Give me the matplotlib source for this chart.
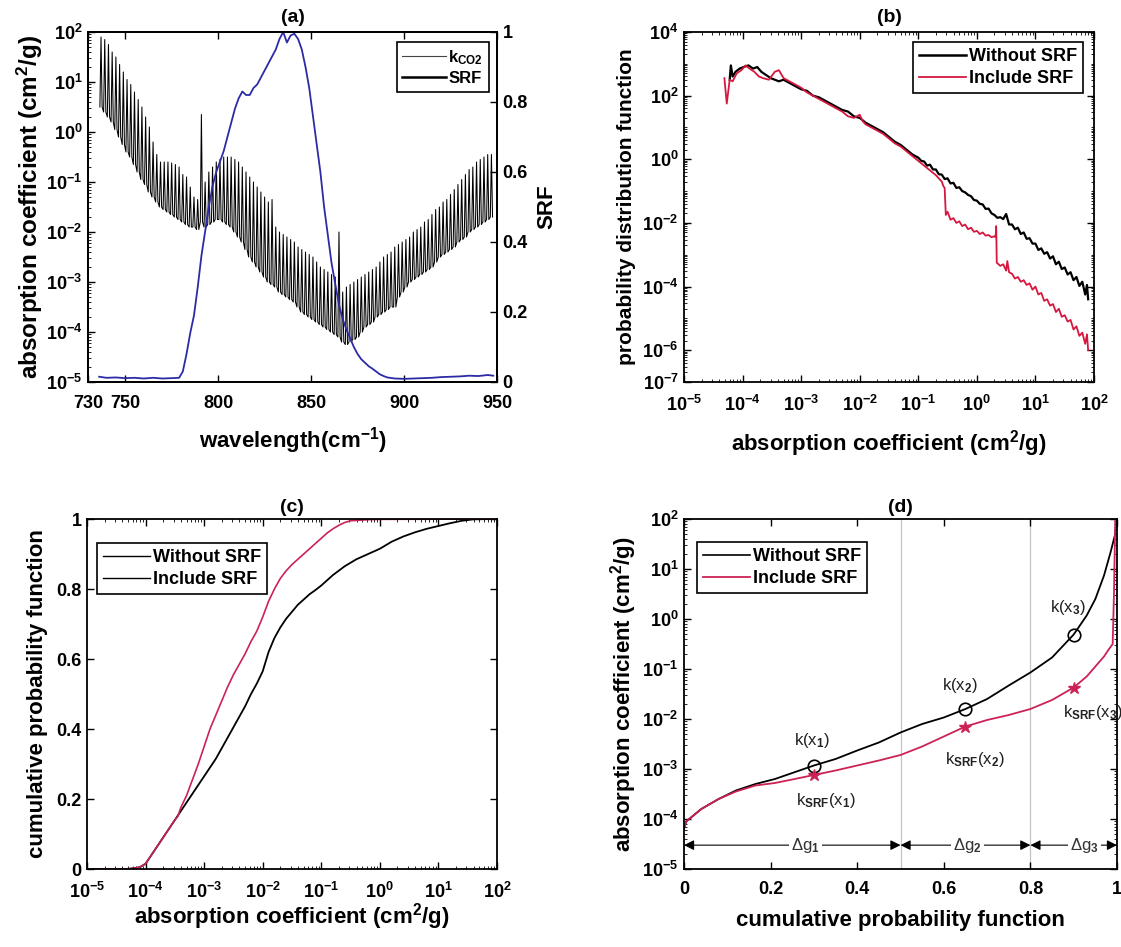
import numpy as np
import matplotlib
matplotlib.use("Agg")
import matplotlib.pyplot as plt
from matplotlib.lines import Line2D
from matplotlib.ticker import FixedLocator, FixedFormatter, LogLocator, NullFormatter

# ---------------------------------------------------------------- data
# (a) CO2 absorption lines: line centres (cm-1), log10 of peak and trough k
line_wn = np.arange(737, 949, 2)
line_peak = [1.9, 1.85, 1.75, 1.6, 1.5, 1.35, 1.2, 1.05, 0.95, 0.8,
             0.65, 0.5, 0.3, 0.1, -0.2, -0.45, -0.6, -0.6, -0.6, -0.62,
             -0.65, -0.7, -0.85, -0.9, -1.1, -1.3, -1.35, 0.35, -1.0, -0.8,
             -0.7, -0.6, -0.55, -0.5, -0.5, -0.5, -0.55, -0.6, -0.7, -0.8,
             -0.9, -1.0, -1.1, -1.2, -1.3, -1.4, -1.35, -1.9, -2.0, -2.05,
             -2.1, -2.15, -2.2, -2.3, -2.35, -2.4, -2.45, -2.5, -2.6, -2.7,
             -2.75, -2.8, -2.85, -2.9, -2.0, -3.2, -3.1, -3.05, -3.0, -2.95,
             -2.9, -2.85, -2.8, -2.75, -2.7, -2.6, -2.5, -2.45, -2.4, -2.3,
             -2.25, -2.2, -2.15, -2.1, -2.0, -1.95, -1.9, -1.8, -1.75, -1.65,
             -1.55, -1.5, -1.4, -1.35, -1.25, -1.15, -1.05, -0.95, -0.85, -0.75,
             -0.7, -0.6, -0.55, -0.5, -0.45, -0.45]
line_trough = [0.5, 0.4, 0.3, 0.2, 0.05, -0.1, -0.25, -0.4, -0.5, -0.65,
               -0.8, -0.95, -1.05, -1.2, -1.3, -1.4, -1.5, -1.55, -1.6, -1.65,
               -1.7, -1.75, -1.8, -1.85, -1.9, -1.9, -1.95, -1.8, -1.9, -1.85,
               -1.8, -1.75, -1.75, -1.8, -1.85, -1.9, -2.0, -2.1, -2.2, -2.35,
               -2.5, -2.6, -2.7, -2.8, -2.9, -3.0, -3.05, -3.1, -3.2, -3.25,
               -3.3, -3.35, -3.4, -3.5, -3.6, -3.65, -3.7, -3.75, -3.8, -3.85,
               -3.9, -3.95, -4.0, -4.05, -4.1, -4.2, -4.25, -4.2, -4.15, -4.1,
               -4.0, -3.9, -3.85, -3.8, -3.7, -3.65, -3.6, -3.55, -3.5, -3.5,
               -3.3, -3.2, -3.1, -3.0, -2.95, -2.9, -2.85, -2.8, -2.75, -2.7,
               -2.6, -2.5, -2.45, -2.4, -2.35, -2.3, -2.2, -2.15, -2.1, -2.0,
               -1.95, -1.9, -1.85, -1.8, -1.75, -1.7]

# (a) sensor spectral response function
srf_wn = [736, 740, 745, 750, 755, 760, 765, 770, 775, 779, 781, 783, 785, 787,
          789, 791, 793, 795, 797, 799, 801, 803, 805, 807, 809, 811, 813, 815,
          817, 819, 821, 823, 825, 827, 829, 831, 833, 835, 837, 839, 841, 843,
          845, 847, 849, 851, 853, 855, 857, 859, 861, 863, 865, 867, 869, 871,
          873, 875, 877, 879, 881, 883, 885, 887, 889, 891, 895, 900, 905, 910,
          915, 920, 925, 930, 935, 940, 945, 948]
srf_val = [0.015, 0.012, 0.013, 0.011, 0.012, 0.010, 0.012, 0.010, 0.011, 0.012,
           0.03, 0.08, 0.14, 0.19, 0.27, 0.36, 0.43, 0.50, 0.56, 0.60, 0.63, 0.66,
           0.70, 0.74, 0.78, 0.81, 0.83, 0.82, 0.82, 0.84, 0.85, 0.87, 0.89, 0.91,
           0.93, 0.95, 0.98, 1.0, 0.97, 0.99, 0.995, 0.98, 0.95, 0.90, 0.84, 0.76,
           0.68, 0.60, 0.50, 0.42, 0.34, 0.28, 0.22, 0.18, 0.15, 0.125, 0.10, 0.08,
           0.065, 0.055, 0.045, 0.038, 0.03, 0.022, 0.017, 0.013, 0.010, 0.009,
           0.010, 0.011, 0.012, 0.014, 0.015, 0.016, 0.018, 0.017, 0.020, 0.018]

# (b) probability distribution function, log10 k vs log10 pdf
pdf_no_logk = [-4.22, -4.2, -4.17, -4.12, -4.05, -3.98, -3.9, -3.82, -3.75, -3.68,
               -3.6, -3.52, -3.45, -3.38, -3.3, -3.2, -3.1, -3.0, -2.9, -2.8,
               -2.7, -2.6, -2.5, -2.4, -2.3, -2.2, -2.1, -2.0, -1.9, -1.8,
               -1.7, -1.6, -1.5, -1.4, -1.3, -1.2, -1.1,
               -1.0, -0.95, -0.9, -0.85, -0.8, -0.75, -0.7, -0.65, -0.6, -0.55,
               -0.5, -0.45, -0.4, -0.35, -0.3, -0.25, -0.2, -0.15, -0.1, -0.05,
               0.0, 0.05, 0.1, 0.15, 0.2, 0.25, 0.3, 0.35, 0.4, 0.45,
               0.5, 0.55, 0.6, 0.65, 0.7, 0.75, 0.8, 0.85, 0.9, 0.95,
               1.0, 1.05, 1.1, 1.15, 1.2, 1.25, 1.3, 1.35, 1.4, 1.45,
               1.5, 1.55, 1.6, 1.65, 1.7, 1.75, 1.8, 1.85, 1.88, 1.9]
pdf_no_logp = [2.5, 2.95, 2.6, 2.75, 2.85, 2.9, 2.95, 2.85, 2.9, 2.75,
               2.65, 2.55, 2.5, 2.45, 2.5, 2.4, 2.3, 2.2, 2.15, 2.0,
               1.95, 1.85, 1.75, 1.65, 1.55, 1.5, 1.35, 1.3, 1.15, 1.05,
               0.95, 0.85, 0.7, 0.55, 0.45, 0.3, 0.15,
               0.05, -0.05, -0.07, -0.2, -0.17, -0.32, -0.32, -0.47, -0.48, -0.62,
               -0.6, -0.76, -0.74, -0.9, -0.88, -1.0, -1.04, -1.12, -1.16, -1.28,
               -1.3, -1.4, -1.42, -1.56, -1.55, -1.7, -1.75, -1.84, -1.82, -1.88,
               -1.72, -2.05, -2.05, -2.2, -2.15, -2.35, -2.3, -2.5, -2.48, -2.65,
               -2.65, -2.85, -2.8, -2.97, -2.92, -3.12, -3.05, -3.3, -3.22, -3.45,
               -3.4, -3.62, -3.55, -3.8, -3.7, -3.98, -3.85, -4.25, -3.95, -4.4]
pdf_srf_logk = [-4.31, -4.27, -4.22, -4.17, -4.1, -4.02, -3.95, -3.88, -3.8, -3.72,
                -3.65, -3.55, -3.45, -3.38, -3.3, -3.2, -3.1, -3.0, -2.9, -2.8,
                -2.7, -2.6, -2.5, -2.4, -2.3, -2.2, -2.1, -2.0, -1.95, -1.9,
                -1.8, -1.7, -1.6, -1.5, -1.4, -1.3, -1.2, -1.1, -1.0, -0.9,
                -0.8, -0.7, -0.6, -0.57, -0.55, -0.53, -0.5, -0.45, -0.4, -0.35,
                -0.3, -0.25, -0.2, -0.15, -0.1, -0.05, 0.0, 0.05, 0.1, 0.15,
                0.2, 0.25, 0.3, 0.32, 0.33, 0.34, 0.4, 0.45, 0.5, 0.52,
                0.55, 0.6, 0.65, 0.7, 0.75, 0.8, 0.85, 0.9, 0.95, 1.0,
                1.05, 1.1, 1.15, 1.2, 1.25, 1.3, 1.35, 1.4, 1.45, 1.5,
                1.55, 1.6, 1.65, 1.7, 1.75, 1.8, 1.85, 1.88, 1.9]
pdf_srf_logp = [2.55, 1.75, 2.5, 2.45, 2.7, 2.8, 2.95, 2.85, 2.75, 2.6,
                2.55, 2.5, 2.75, 2.8, 2.55, 2.45, 2.35, 2.25, 2.1, 2.0,
                1.9, 1.8, 1.7, 1.6, 1.5, 1.35, 1.3, 1.4, 1.2, 1.1,
                1.0, 0.9, 0.8, 0.65, 0.5, 0.4, 0.25, 0.1, -0.05, -0.2,
                -0.35, -0.5, -0.7, -0.85, -0.9, -1.75, -1.65, -1.9, -1.85, -2.0,
                -1.95, -2.1, -2.05, -2.2, -2.15, -2.28, -2.25, -2.35, -2.3, -2.4,
                -2.38, -2.45, -2.42, -2.45, -2.1, -3.25, -3.35, -3.3, -3.5, -3.2,
                -3.55, -3.6, -3.75, -3.7, -3.85, -3.8, -3.95, -3.9, -4.1, -4.0,
                -4.25, -4.2, -4.45, -4.4, -4.6, -4.55, -4.8, -4.7, -4.95, -4.9,
                -5.1, -5.05, -5.35, -5.25, -5.55, -5.45, -5.8, -5.5, -6.0]

# (c) cumulative probability function vs log10 k
cdf_no_logk = [-5.0, -4.3, -4.1, -4.0, -3.9, -3.8, -3.7, -3.6, -3.5, -3.4,
               -3.3, -3.2, -3.1, -3.0, -2.9, -2.8, -2.7, -2.6, -2.5, -2.4,
               -2.3, -2.2, -2.1, -2.0, -1.9, -1.8, -1.7, -1.6, -1.5, -1.4,
               -1.3, -1.2, -1.1, -1.0, -0.8, -0.6, -0.4, -0.2, 0.0, 0.2,
               0.4, 0.6, 0.8, 1.0, 1.2, 1.4, 1.6, 2.0]
cdf_no = [0.0, 0.0, 0.005, 0.015, 0.04, 0.065, 0.09, 0.115, 0.14, 0.165,
          0.19, 0.215, 0.24, 0.265, 0.29, 0.315, 0.345, 0.375, 0.405, 0.435,
          0.465, 0.5, 0.53, 0.565, 0.62, 0.66, 0.69, 0.715, 0.735, 0.755,
          0.77, 0.785, 0.797, 0.81, 0.84, 0.865, 0.885, 0.9, 0.915, 0.935,
          0.95, 0.962, 0.972, 0.98, 0.988, 0.995, 0.999, 1.0]
cdf_srf_logk = [-5.0, -4.3, -4.1, -4.0, -3.9, -3.8, -3.7, -3.6, -3.5, -3.45,
                -3.4, -3.3, -3.2, -3.1, -3.0, -2.9, -2.8, -2.7, -2.6, -2.5,
                -2.4, -2.3, -2.2, -2.1, -2.0, -1.9, -1.8, -1.7, -1.6, -1.5,
                -1.4, -1.3, -1.2, -1.1, -1.0, -0.9, -0.8, -0.7, -0.6, -0.5,
                -0.2, 0.0, 2.0]
cdf_srf = [0.0, 0.0, 0.005, 0.015, 0.04, 0.065, 0.09, 0.115, 0.14, 0.15,
           0.175, 0.21, 0.255, 0.3, 0.35, 0.4, 0.44, 0.48, 0.52, 0.555,
           0.585, 0.615, 0.65, 0.68, 0.72, 0.765, 0.8, 0.83, 0.852, 0.87,
           0.885, 0.9, 0.915, 0.93, 0.945, 0.96, 0.972, 0.982, 0.99, 0.995,
           0.998, 0.999, 1.0]

# (d) k as a function of g (log10 k)
g_no = [0.0, 0.005, 0.04, 0.08, 0.12, 0.165, 0.21, 0.25, 0.3, 0.35,
        0.4, 0.45, 0.5, 0.55, 0.6, 0.65, 0.7, 0.75, 0.8, 0.85,
        0.9, 0.93, 0.95, 0.97, 0.985, 0.995, 1.0]
kg_no = [-4.2, -4.05, -3.8, -3.6, -3.43, -3.3, -3.2, -3.08, -2.93, -2.8,
         -2.63, -2.47, -2.27, -2.1, -1.97, -1.8, -1.6, -1.33, -1.07, -0.77,
         -0.31, 0.07, 0.4, 0.87, 1.33, 1.67, 2.0]
g_srf = [0.0, 0.005, 0.04, 0.08, 0.12, 0.165, 0.21, 0.25, 0.3, 0.35,
         0.4, 0.45, 0.5, 0.55, 0.6, 0.65, 0.7, 0.75, 0.8, 0.85,
         0.9, 0.93, 0.95, 0.97, 0.98, 0.99, 0.993, 0.996]
kg_srf = [-4.2, -4.05, -3.8, -3.6, -3.45, -3.33, -3.28, -3.21, -3.12, -3.03,
          -2.93, -2.83, -2.72, -2.55, -2.35, -2.15, -2.02, -1.92, -1.8, -1.62,
          -1.37, -1.15, -0.95, -0.75, -0.62, -0.5, 0.5, 2.0]
g_nodes = [0.3, 0.65, 0.9]
g_bounds = [0.0, 0.5, 0.8, 1.0]
dg_label_x = [0.28, 0.655, 0.925]

# ---------------------------------------------------------------- style
plt.rcParams.update({
    "font.family": ["Liberation Sans", "DejaVu Sans"],
    "font.weight": "bold",
    "font.size": 13,
    "axes.labelweight": "bold",
    "axes.titleweight": "bold",
    "mathtext.fontset": "custom",
    "mathtext.rm": "Liberation Sans",
    "mathtext.it": "Liberation Sans:italic",
    "mathtext.bf": "Liberation Sans:bold",
    "mathtext.sf": "Liberation Sans",
    "mathtext.default": "bf",
    "axes.linewidth": 1.3,
    "xtick.direction": "in", "ytick.direction": "in",
    "xtick.top": True, "ytick.right": True,
    "xtick.major.size": 5, "ytick.major.size": 5,
    "xtick.minor.size": 2.5, "ytick.minor.size": 2.5,
    "xtick.major.width": 1.0, "ytick.major.width": 1.0,
    "xtick.major.pad": 9, "ytick.major.pad": 4,
    "xtick.labelsize": 13, "ytick.labelsize": 13,
    "legend.fancybox": False, "legend.edgecolor": "black",
    "legend.framealpha": 1.0, "legend.fontsize": 13,
})

RED = "#d6173f"
RED2 = "#cc2255"
BLUE = "#2b2ba6"
LABEL_FS = 16

W, H = 1121, 947
fig = plt.figure(figsize=(W / 100, H / 100), dpi=100)


def rect(l, t, r, b):
    return [l / W, 1 - b / H, (r - l) / W, (b - t) / H]


def fig_xy(x, y):
    return (x / W, 1 - y / H)


def decade_axis(axis, exps):
    axis.set_major_locator(FixedLocator([10.0 ** e for e in exps]))
    axis.set_major_formatter(FixedFormatter([rf"$10^{{{e}}}$" for e in exps]))
    axis.set_minor_locator(LogLocator(base=10, subs=np.arange(1, 10) * 1.0, numticks=60))
    axis.set_minor_formatter(NullFormatter())


def legend_box(ax, handles, labels, anchor, loc, fs, hl):
    leg = ax.legend(handles, labels, loc=loc, bbox_to_anchor=fig_xy(*anchor),
                    bbox_transform=fig.transFigure, borderaxespad=0,
                    fontsize=fs, handlelength=hl, handletextpad=0.15,
                    labelspacing=0.25, borderpad=0.35)
    leg.get_frame().set_linewidth(1.2)
    return leg


# ---------------------------------------------------------------- (a)
ax_a = fig.add_axes(rect(88, 32, 497, 382))
n = len(line_wn)
xs = np.empty(3 * n)
ys = np.empty(3 * n)
xs[0::3] = line_wn - 0.6
xs[1::3] = line_wn
xs[2::3] = line_wn + 0.6
ys[0::3] = 10.0 ** np.asarray(line_trough)
ys[1::3] = 10.0 ** np.asarray(line_peak)
ys[2::3] = 10.0 ** np.asarray(line_trough)
ax_a.plot(xs, ys, color="black", lw=0.75)
ax_a.set_yscale("log")
ax_a.set_xlim(730, 950)
ax_a.set_ylim(1e-5, 1e2)
ax_a.set_xticks([730, 750, 800, 850, 900, 950])
ax_a.set_xticklabels(["730", "750", "800", "850", "900", "950"])
decade_axis(ax_a.yaxis, [-5, -4, -3, -2, -1, 0, 1, 2])
ax_a.set_xlabel(r"wavelength(cm$^{-1}$)", fontsize=LABEL_FS, labelpad=9.5)
ax_a.set_ylabel(r"absorption coefficient (cm$^{2}$/g)", fontsize=17.5, labelpad=1)
ax_a.set_title("(a)", fontsize=14, pad=7)

ax_a2 = ax_a.twinx()
ax_a2.plot(srf_wn, srf_val, color=BLUE, lw=1.3)
ax_a2.set_ylim(0, 1)
ax_a2.set_yticks([0, 0.2, 0.4, 0.6, 0.8, 1.0])
ax_a2.set_yticklabels(["0", "0.2", "0.4", "0.6", "0.8", "1"])
ax_a2.tick_params(axis="y", direction="in")
ax_a2.set_ylabel("SRF", fontsize=LABEL_FS, labelpad=6)
legend_box(ax_a2,
           [Line2D([], [], color="#444444", lw=0.8), Line2D([], [], color="black", lw=1.8)],
           [r"k$_{CO2}$", "SRF"], (489, 42), "upper right", 12, 2.6)

# ---------------------------------------------------------------- (b)
ax_b = fig.add_axes(rect(684, 32, 1094, 382))
ax_b.plot(10.0 ** np.asarray(pdf_no_logk), 10.0 ** np.asarray(pdf_no_logp),
          color="black", lw=1.6)
ax_b.plot(10.0 ** np.asarray(pdf_srf_logk), 10.0 ** np.asarray(pdf_srf_logp),
          color=RED, lw=1.3)
ax_b.set_xscale("log")
ax_b.set_yscale("log")
ax_b.set_xlim(1e-5, 1e2)
ax_b.set_ylim(1e-7, 1e4)
decade_axis(ax_b.xaxis, [-5, -4, -3, -2, -1, 0, 1, 2])
decade_axis(ax_b.yaxis, [-7, -6, -4, -2, 0, 2, 4])
ax_b.set_xlabel(r"absorption coefficient (cm$^{2}$/g)", fontsize=LABEL_FS, labelpad=10)
ax_b.set_ylabel("probability distribution function", fontsize=15, labelpad=4)
ax_b.set_title("(b)", fontsize=14, pad=7)
legend_box(ax_b,
           [Line2D([], [], color="black", lw=1.8), Line2D([], [], color=RED, lw=1.3)],
           ["Without SRF", "Include SRF"], (1083, 42), "upper right", 13, 2.6)

# ---------------------------------------------------------------- (c)
ax_c = fig.add_axes(rect(87, 519, 497, 869))
ax_c.plot(10.0 ** np.asarray(cdf_no_logk), cdf_no, color="black", lw=1.3)
ax_c.plot(10.0 ** np.asarray(cdf_srf_logk), cdf_srf, color=RED2, lw=1.2)
ax_c.set_xscale("log")
ax_c.set_xlim(1e-5, 1e2)
ax_c.set_ylim(0, 1)
decade_axis(ax_c.xaxis, [-5, -4, -3, -2, -1, 0, 1, 2])
ax_c.set_yticks([0, 0.2, 0.4, 0.6, 0.8, 1.0])
ax_c.set_yticklabels(["0", "0.2", "0.4", "0.6", "0.8", "1"])
ax_c.set_xlabel(r"absorption coefficient (cm$^{2}$/g)", fontsize=LABEL_FS, labelpad=0)
ax_c.set_ylabel("cumulative probability function", fontsize=LABEL_FS, labelpad=6)
ax_c.set_title("(c)", fontsize=14, pad=5)
legend_box(ax_c,
           [Line2D([], [], color="black", lw=1.0), Line2D([], [], color="black", lw=1.0)],
           ["Without SRF", "Include SRF"], (97, 543), "upper left", 13, 2.6)

# ---------------------------------------------------------------- (d)
ax_d = fig.add_axes(rect(684, 519, 1117, 869))
for xb in g_bounds[1:-1]:
    ax_d.axvline(xb, color="#c4c4c4", lw=0.9, zorder=0.5)
ax_d.plot(g_no, 10.0 ** np.asarray(kg_no), color="black", lw=1.3)
ax_d.plot(g_srf, 10.0 ** np.asarray(kg_srf), color=RED2, lw=1.3)
k_no_nodes = [10.0 ** kg_no[g_no.index(g)] for g in g_nodes]
k_srf_nodes = [10.0 ** kg_srf[g_srf.index(g)] for g in g_nodes]
ax_d.plot(g_nodes, k_no_nodes, "o", ms=9, mfc="none", mec="black", mew=1.2)
ax_d.plot(g_nodes, k_srf_nodes, "*", ms=9, color=RED2, mew=1.0)
ax_d.set_yscale("log")
ax_d.set_xlim(0, 1)
ax_d.set_ylim(1e-5, 1e2)
ax_d.set_xticks([0, 0.2, 0.4, 0.6, 0.8, 1.0])
ax_d.set_xticklabels(["0", "0.2", "0.4", "0.6", "0.8", "1"])
decade_axis(ax_d.yaxis, [-5, -4, -3, -2, -1, 0, 1, 2])
ax_d.set_xlabel("cumulative probability function", fontsize=LABEL_FS, labelpad=8)
ax_d.set_ylabel(r"absorption coefficient (cm$^{2}$/g)", fontsize=LABEL_FS, labelpad=2)
ax_d.set_title("(d)", fontsize=14, pad=5)

ann = dict(fontsize=12, fontweight="normal", color="#222222", ha="center", va="center")
ax_d.text(0.296, 10 ** -2.43, r"k(x$_\mathrm{1}$)", **ann)
ax_d.text(0.327, 10 ** -3.63, r"k$_\mathrm{SRF}$(x$_\mathrm{1}$)", **ann)
ax_d.text(0.638, 10 ** -1.33, r"k(x$_\mathrm{2}$)", **ann)
ax_d.text(0.671, 10 ** -2.8, r"k$_\mathrm{SRF}$(x$_\mathrm{2}$)", **ann)
ax_d.text(0.887, 10 ** 0.23, r"k(x$_\mathrm{3}$)", **ann)
ax_d.text(0.945, 10 ** -1.87, r"k$_\mathrm{SRF}$(x$_\mathrm{3}$)", clip_on=False, **ann)

y_arrow = 3e-5
for i in range(3):
    ax_d.annotate("", xy=(g_bounds[i], y_arrow), xytext=(g_bounds[i + 1], y_arrow),
                  arrowprops=dict(arrowstyle="<|-|>", color="black", lw=0.8,
                                  shrinkA=0, shrinkB=0, mutation_scale=15))
    ax_d.text(dg_label_x[i], y_arrow, "Δg$_\\mathrm{%d}$" % (i + 1), fontsize=12,
              fontweight="normal", color="#333333", ha="center", va="center",
              bbox=dict(facecolor="white", edgecolor="none", pad=1.5))
legend_box(ax_d,
           [Line2D([], [], color="black", lw=1.2), Line2D([], [], color=RED2, lw=1.3)],
           ["Without SRF", "Include SRF"], (697, 542), "upper left", 13, 2.6)

fig.savefig("out.png", dpi=100, facecolor="white")
